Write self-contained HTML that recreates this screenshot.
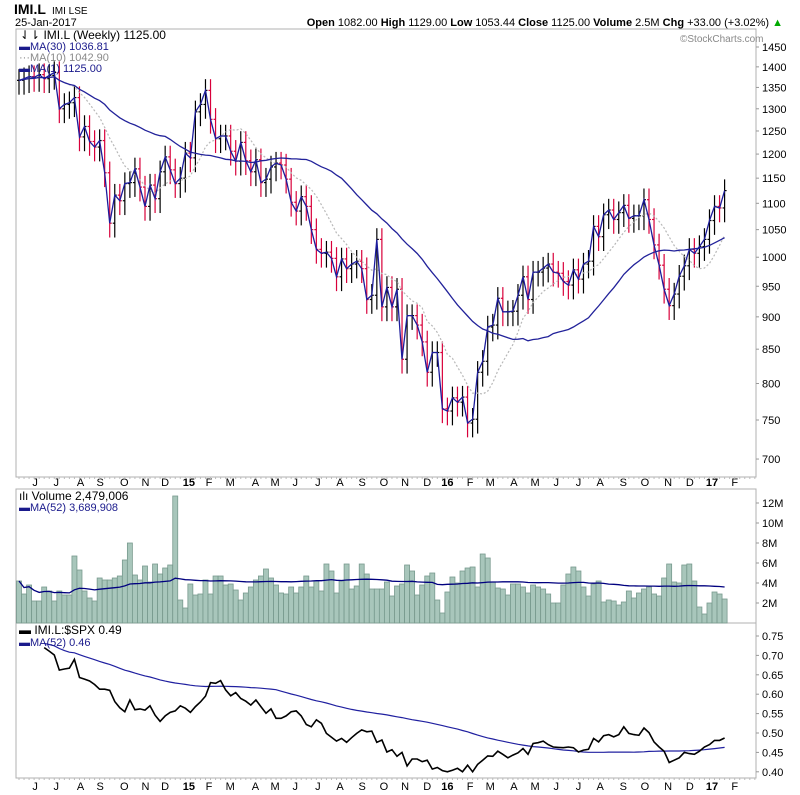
<!DOCTYPE html>
<html><head><meta charset="utf-8"><style>
body{margin:0;background:#fff;}
svg{display:block;font-family:"Liberation Sans",Arial,sans-serif;}
</style></head><body>
<svg id="chart" width="800" height="795" viewBox="0 0 800 795">
<text x="14" y="14" font-size="14" font-weight="bold">IMI.L</text>
<text x="52" y="14" font-size="10">IMI LSE</text>
<text x="15" y="26" font-size="11">25-Jan-2017</text>
<text x="783" y="26" font-size="11" text-anchor="end"><tspan font-weight="bold">Open</tspan> 1082.00  <tspan font-weight="bold">High</tspan> 1129.00  <tspan font-weight="bold">Low</tspan> 1053.44  <tspan font-weight="bold">Close</tspan> 1125.00  <tspan font-weight="bold">Volume</tspan> 2.5M  <tspan font-weight="bold">Chg</tspan> +33.00 (+3.02%) <tspan fill="#0a0">▲</tspan></text>
<g id="panels"></g>
<g id="marks"></g>
<g id="legends" font-size="11">
<text x="20" y="39" font-size="12">⇃⇂ IMI.L (Weekly) 1125.00</text>
<text x="19" y="50" fill="#1a1a8c">▬MA(30) 1036.81</text>
<text x="19" y="61" fill="#8a8a8a">···MA(10) 1042.90</text>
<text x="19" y="72" fill="#1a1a8c">▬MA(1) 1125.00</text>
<text x="680" y="42" font-size="10" fill="#888">©StockCharts.com</text>
<text x="19" y="500" font-size="12">ılı Volume 2,479,006</text>
<text x="19" y="511" fill="#1a1a8c">▬MA(52) 3,689,908</text>
<text x="19" y="634" font-size="12">▬ IMI.L:$SPX 0.49</text>
<text x="19" y="646" fill="#1a1a8c">▬MA(52) 0.46</text>
</g>
</svg>
<script>
const closes=[1367,1371,1376,1374,1381,1371,
1379,1386,1300,1310,1314,1326,1237,1260,1227,1215,
1229,1161,1062,1116,1105,1139,1141,1169,1132,1094,
1136,1109,1163,1194,1167,1139,1150,1202,1192,1293,
1310,1343,1276,1233,1239,1239,1206,1185,1225,1186,
1163,1188,1141,1148,1173,1181,1177,1148,1102,1085,
1113,1094,1050,1014,1007,1009,998,966,997,980,
988,993,980,928,935,1032,
916,948,916,945,835,902,902,887,861,816,
845,845,765,762,780,774,781,746,751,816,
832,884,887,930,908,908,909,935,966,928,
974,974,981,988,974,972,958,952,978,962,
988,993,1056,1037,1078,1087,1069,1082,1096,1071,
1076,1076,1107,1069,1022,986,945,918,937,967,
985,1014,1007,1019,1032,1067,1094,1091,1125];
const volumes=[4.2,2.9,3.8,2.2,2.2,3.6,3.2,2.2,3.2,2.8,2.8,6.7,5.3,3.2,2.5,2.2,4.5,4.3,4.3,4.5,4.7,6.3,8.0,4.8,4.3,5.7,4.1,5.9,4.9,5.5,5.8,12.7,2.3,1.5,3.9,2.8,2.9,4.3,2.9,4.7,4.7,3.8,3.9,3.3,2.3,3.0,3.6,4.3,4.7,5.4,4.5,3.8,3.0,2.9,3.6,3.0,3.6,4.7,3.6,4.2,3.2,5.9,5.2,3.0,4.2,5.9,3.4,3.7,5.9,4.9,3.4,
3.4,3.4,4.1,2.7,3.7,3.9,5.8,5.2,2.8,3.8,4.7,5.0,2.3,1.0,3.1,4.6,4.0,5.2,5.5,5.6,3.6,6.9,6.5,4.1,3.5,3.4,2.8,3.9,3.9,3.6,3.0,3.8,3.6,3.4,2.9,2.0,2.0,3.8,4.9,5.6,5.2,3.6,2.7,3.9,4.2,2.1,2.3,2.2,1.8,2.1,3.2,2.5,3.0,3.4,3.6,2.9,2.7,4.5,5.9,4.1,4.0,5.8,5.9,4.2,1.6,0.9,2.0,3.1,2.9,2.4];
const ratios=[0.74,0.74,0.73,0.73,0.725,
0.720,0.711,0.701,0.662,0.665,0.667,0.690,0.643,0.639,0.634,0.625,0.613,0.613,0.610,0.581,0.565,0.555,0.585,0.560,0.562,0.559,0.570,0.546,0.530,0.544,0.553,0.557,0.570,0.564,0.553,0.568,0.580,0.595,0.630,0.628,0.635,0.611,0.596,0.604,0.589,0.582,0.572,0.585,0.568,0.551,0.562,0.538,0.538,0.544,0.555,0.557,0.544,0.522,0.516,0.534,0.525,0.499,0.489,0.479,0.486,0.476,0.488,0.499,0.508,0.503,0.505,0.476,0.482,
0.451,0.457,0.440,0.450,0.415,0.433,0.433,0.426,0.430,0.407,0.411,0.403,0.400,0.404,0.409,0.400,0.417,0.400,0.419,0.430,0.441,0.440,0.453,0.445,0.436,0.443,0.449,0.460,0.445,0.473,0.475,0.479,0.470,0.464,0.463,0.462,0.464,0.462,0.451,0.456,0.458,0.486,0.477,0.493,0.496,0.490,0.496,0.516,0.499,0.496,0.494,0.513,0.501,0.477,0.464,0.453,0.424,0.430,0.436,0.450,0.447,0.445,0.453,0.464,0.470,0.481,0.481,0.487];
const priceTicks=[1450,1400,1350,1300,1250,1200,1150,1100,1050,1000,950,900,850,800,750,700];
const volumeTicks=[12,10,8,6,4,2];
const ratioTicks=[0.75,0.70,0.65,0.60,0.55,0.50,0.45,0.40];
const monthLabels=["J","J","A","S","O","N","D","15","F","M","A","M","J","J","A","S","O","N","D","16","F","M","A","M","J","J","A","S","O","N","D","17","F"];
const monthWeeks=[3.2,7.4,12.2,16.1,20.9,25.1,29,33.7,37.7,41.9,46.9,50.8,54.8,59.3,63.7,68.1,72.4,76.6,81,85,89.5,93.5,98.2,102.4,106.6,111,115.3,119.9,124.2,128.8,133.1,137.5,142];

const NS="http://www.w3.org/2000/svg";
const svg=document.getElementById('chart');
const P=document.getElementById('panels'),M=document.getElementById('marks');
function mk(par,tag,at){const e=document.createElementNS(NS,tag);for(const k in at)e.setAttribute(k,at[k]);par.appendChild(e);return e;}
const L=16,R=756;
const xS=i=>19+i*5.04;
const yP=v=>47+565.8*(Math.log(1450)-Math.log(v));
const yV=m=>623-m*10;
const yR=v=>636+(0.75-v)*388;
function ma(a,n){return a.map((_,i)=>{const s=a.slice(Math.max(0,i-n+1),i+1);return s.reduce((p,c)=>p+c,0)/s.length;});}
function pathOf(a,f,from){let d='';a.forEach((v,i)=>{if(i<(from||0))return;d+=(d?'L':'M')+xS(i).toFixed(1)+','+f(v).toFixed(1);});return d;}

[[29,477,'price-panel'],[489,623,'volume-panel'],[623,778,'ratio-panel']].forEach(p=>{
 const r=mk(P,'rect',{x:L,y:p[0],width:R-L,height:p[1]-p[0],fill:'#fff',stroke:'#b0b0b0','stroke-width':1});
 
 
});
priceTicks.forEach(v=>{const t=mk(P,'text',{x:762,y:yP(v)+4,'font-size':11});t.textContent=v;
 
 mk(P,'line',{x1:R,x2:R+3,y1:yP(v),y2:yP(v),stroke:'#999'});});
volumeTicks.forEach(v=>{const t=mk(P,'text',{x:762,y:yV(v)+4,'font-size':11});t.textContent=v+'M';
 
 mk(P,'line',{x1:R,x2:R+3,y1:yV(v),y2:yV(v),stroke:'#999'});});
ratioTicks.forEach(v=>{const t=mk(P,'text',{x:762,y:yR(v)+4,'font-size':11});t.textContent=v.toFixed(2);
 
 mk(P,'line',{x1:R,x2:R+3,y1:yR(v),y2:yR(v),stroke:'#999'});});
monthLabels.forEach((m,i)=>{const x=xS(monthWeeks[i]);const bold=/\d/.test(m);
 [486,790].forEach(y=>{const t=mk(P,'text',{x:x,y:y,'font-size':11,'text-anchor':'middle','font-weight':bold?'bold':'normal'});t.textContent=m;
  });
});
for(let i=0;i<closes.length+6;i++){[477,778].forEach(y=>mk(P,'line',{x1:xS(i),x2:xS(i),y1:y,y2:y+2,stroke:'#bbb'}));}

closes.forEach((c,i)=>{const o=i>0?closes[i-1]:c;const hi=Math.max(o,c)*1.02,lo=Math.min(o,c)*0.975;
 const col=c<o?'#d8003a':'#000';const x=xS(i);
 const g=mk(M,'g',{stroke:col,'stroke-width':1.2});
 
 
 mk(g,'line',{x1:x,x2:x,y1:yP(hi),y2:yP(lo)});
 mk(g,'line',{x1:x-2,x2:x,y1:yP(o),y2:yP(o)});
 mk(g,'line',{x1:x,x2:x+2,y1:yP(c),y2:yP(c)});
});
const ma10=mk(M,'path',{d:pathOf(ma(closes,10),yP),fill:'none',stroke:'#b8b8b8','stroke-width':1.2,'stroke-dasharray':'2,2'});

const ma30=mk(M,'path',{d:pathOf(ma(closes,30),yP),fill:'none',stroke:'#22229a','stroke-width':1.3});

const ma1=mk(M,'path',{d:pathOf(closes,yP),fill:'none',stroke:'#1c1c9c','stroke-width':1.3});


volumes.forEach((v,i)=>{const r=mk(M,'rect',{x:xS(i)-2.5,y:yV(v),width:5,height:623-yV(v),fill:'#a8c6bb',stroke:'#789a8e','stroke-width':0.8});
 });
const vma=mk(M,'path',{d:pathOf(ma(volumes,52),yV),fill:'none',stroke:'#00007f','stroke-width':1.3});


const rma=mk(M,'path',{d:pathOf(ma(ratios,52),yR,5),fill:'none',stroke:'#2020a0','stroke-width':1.2});

const rl=mk(M,'path',{d:pathOf(ratios,yR,5),fill:'none',stroke:'#000','stroke-width':1.6});

</script>
</body></html>
